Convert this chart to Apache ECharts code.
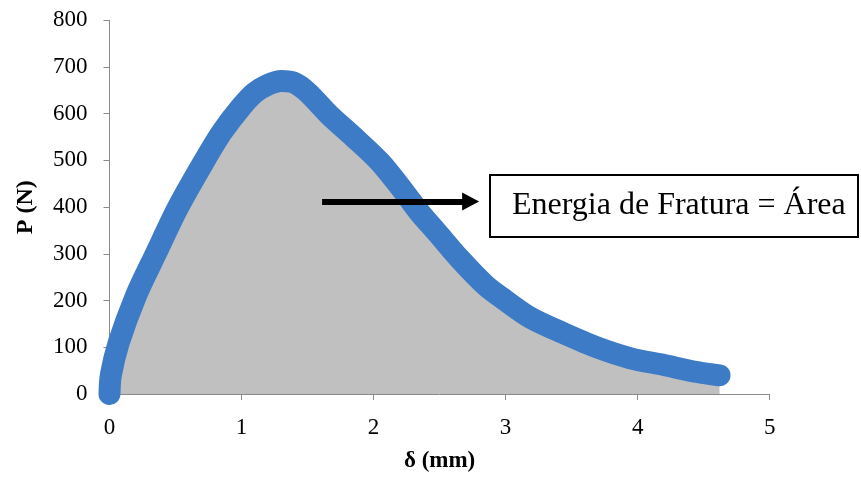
<!DOCTYPE html>
<html>
<head>
<meta charset="utf-8">
<script src="https://cdn.jsdelivr.net/npm/echarts@6/dist/echarts.min.js"></script>
<style>
  html, body { margin: 0; padding: 0; background: #fff; }
  #chart { width: 861px; height: 478px; }
</style>
</head>
<body>
<div id="chart"></div>
<script>
  // deslocamento (mm) e carga (N)
  var delta = [0, 0.01, 0.07, 0.2, 0.35, 0.52, 0.72, 0.85, 0.99, 1.1, 1.2, 1.3, 1.4, 1.5, 1.67, 1.85, 2.05, 2.23, 2.35, 2.48, 2.65, 2.85, 3.0, 3.19, 3.44, 3.69, 3.94, 4.2, 4.45, 4.62];
  var carga = [0, 40, 110, 210, 300, 400, 500, 560, 612, 645, 662, 670, 666, 646, 596, 550, 496, 433, 388, 346, 290, 232, 200, 163, 130, 100, 77, 62, 47, 40];
  var xTicks = [0, 1, 2, 3, 4, 5];
  var yTicks = [0, 100, 200, 300, 400, 500, 600, 700, 800];
  var arrowFrom = [1.61, 412];
  var arrowTo = [2.735, 412];
  var boxText = 'Energia de Fratura = Área';

  var serif = '"Liberation Serif", "Times New Roman", serif';
  var pontos = delta.map(function (d, i) { return [d, carga[i]]; });

  var myChart = echarts.init(document.getElementById('chart'));
  myChart.setOption({
    animation: false,
    grid: {
      left: 109.5,
      right: 91.3,
      top: 20.3,
      bottom: 75
    },
    xAxis: {
      type: 'value',
      min: xTicks[0],
      max: xTicks[xTicks.length - 1],
      interval: 1,
      name: 'δ (mm)',
      nameLocation: 'middle',
      nameGap: 56,
      nameTextStyle: { fontFamily: serif, fontSize: 23, fontWeight: 'bold', color: '#000' },
      axisLine: { lineStyle: { color: '#8a8a8a', width: 1 } },
      axisTick: { show: true, length: 6, lineStyle: { color: '#8a8a8a' } },
      axisLabel: { fontFamily: serif, fontSize: 23, color: '#000', margin: 22 },
      splitLine: { show: false }
    },
    yAxis: {
      type: 'value',
      min: yTicks[0],
      max: yTicks[yTicks.length - 1],
      interval: 100,
      name: 'P (N)',
      nameLocation: 'middle',
      nameGap: 72,
      nameTextStyle: { fontFamily: serif, fontSize: 24, fontWeight: 'bold', color: '#000' },
      axisLine: { show: true, lineStyle: { color: '#8a8a8a', width: 1 } },
      axisTick: { show: true, length: 6, lineStyle: { color: '#8a8a8a' } },
      axisLabel: { fontFamily: serif, fontSize: 23, color: '#000', margin: 22 },
      splitLine: { show: false }
    },
    series: [
      {
        name: 'P',
        type: 'line',
        data: pontos,
        smooth: 0.3,
        clip: false,
        showSymbol: false,
        lineStyle: { color: '#3d7bc7', width: 22, cap: 'round', join: 'round' },
        areaStyle: { color: '#c0c0c0', opacity: 1 },
        markLine: {
          silent: true,
          symbol: ['none', 'triangle'],
          symbolSize: [18, 17],
          label: { show: false },
          lineStyle: { color: '#000', width: 6, type: 'solid' },
          itemStyle: { color: '#000' },
          data: [[{ coord: arrowFrom }, { coord: arrowTo }]]
        }
      }
    ],
    graphic: [
      {
        type: 'group',
        left: 489,
        top: 174,
        children: [
          {
            type: 'rect',
            shape: { x: 0, y: 0, width: 368, height: 62 },
            style: { fill: '#fff', stroke: '#000', lineWidth: 2 }
          },
          {
            type: 'text',
            x: 22,
            y: 31,
            style: {
              text: boxText,
              font: '32px ' + serif,
              fill: '#000',
              verticalAlign: 'middle'
            }
          }
        ]
      }
    ]
  });
</script>
</body>
</html>
